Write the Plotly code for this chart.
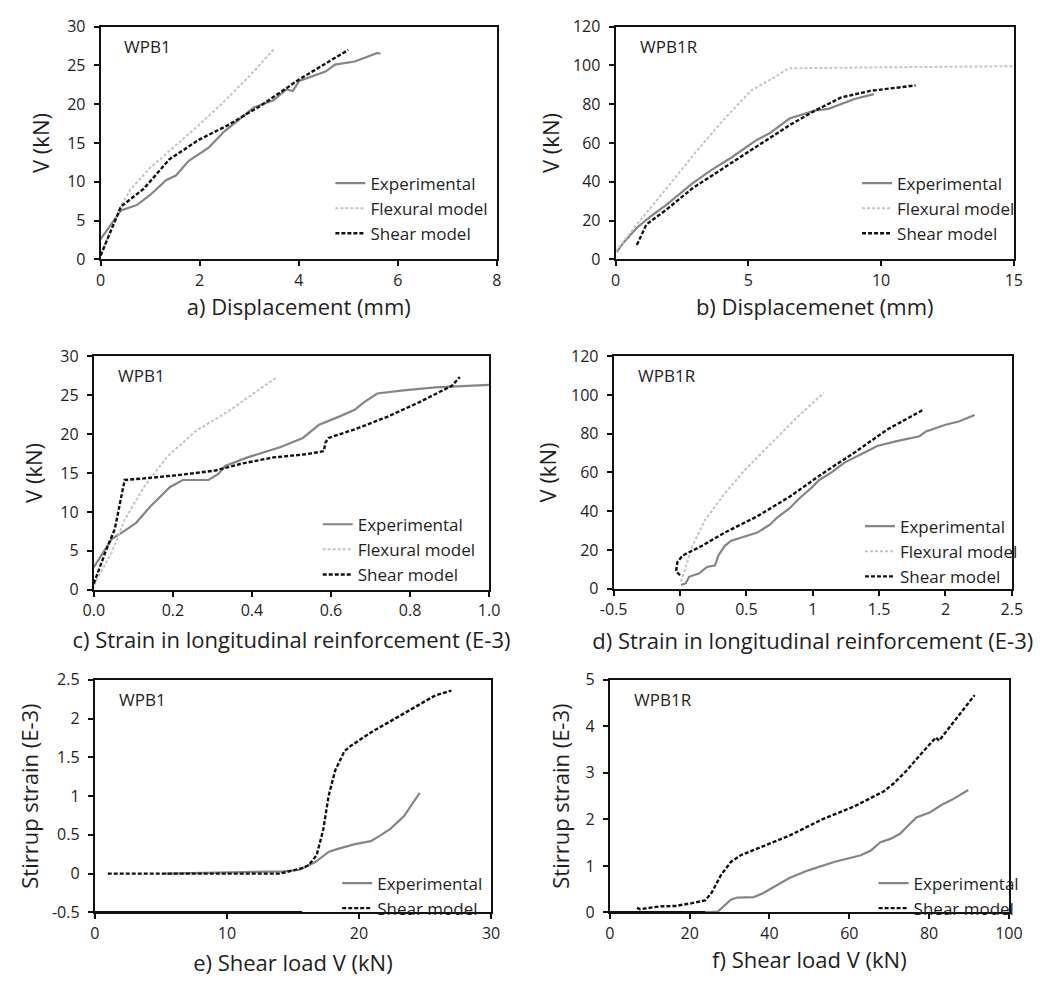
import plotly.graph_objects as go

W, H = 1057, 987
FONT = "Open Sans"
TXT = "#1e1e1e"

# ---------------- data ----------------
# a) WPB1 displacement
a_exp_x = [0, 0.41, 0.73, 1.0, 1.32, 1.52, 1.78, 2.18, 2.5, 2.83, 3.1, 3.49, 3.75, 3.88, 4.01, 4.54, 4.73, 5.13, 5.59, 5.65]
a_exp_y = [2.6, 6.3, 7.0, 8.3, 10.2, 10.8, 12.7, 14.4, 16.5, 18.2, 19.6, 20.5, 21.9, 21.7, 23.0, 24.2, 25.1, 25.5, 26.6, 26.5]
a_flex_x = [0, 0.4, 0.6, 1.0, 1.5, 2.0, 2.5, 3.0, 3.5]
a_flex_y = [0.5, 6.8, 9.0, 11.8, 14.6, 17.4, 20.4, 23.6, 27.1]
a_shear_x = [0, 0.41, 0.87, 1.39, 1.98, 2.57, 3.23, 4.01, 5.0]
a_shear_y = [0.5, 6.8, 9.1, 12.9, 15.4, 17.3, 19.8, 23.2, 27.0]

# b) WPB1R displacement
b_exp_x = [0.04, 0.3, 0.8, 1.4, 1.9, 2.27, 2.88, 3.6, 4.35, 5.33, 5.8, 6.55, 7.53, 8.02, 8.5, 9.0, 9.73]
b_exp_y = [3.7, 8.7, 16.3, 23, 28, 32.3, 39, 46, 52.4, 61.7, 65, 72.6, 76.8, 77.6, 80.2, 82.7, 85.2]
b_flex_x = [0, 0.8, 2, 3, 4, 5.1, 6, 6.5, 10, 15]
b_flex_y = [4, 18, 38, 55, 71, 87, 94, 98.5, 99, 99.6]
b_shear_x = [0.8, 1.16, 1.9, 2.88, 4.1, 5.33, 6.55, 7.53, 8.5, 9.6, 11.3]
b_shear_y = [7.4, 18, 25.5, 36.5, 47.4, 58.3, 69.2, 76.8, 83.5, 86.9, 89.7]

# c) WPB1 longitudinal strain
c_exp_x = [0, 0.045, 0.07, 0.107, 0.143, 0.193, 0.225, 0.29, 0.316, 0.332, 0.389, 0.471, 0.529, 0.57, 0.619, 0.66, 0.684, 0.717, 0.783, 0.865, 1.0]
c_exp_y = [2.9, 6.5, 7.3, 8.6, 10.7, 13.2, 14.1, 14.1, 14.9, 15.9, 17.0, 18.3, 19.5, 21.2, 22.2, 23.1, 24.1, 25.2, 25.6, 26.0, 26.3]
c_flex_x = [0, 0.045, 0.078, 0.127, 0.184, 0.258, 0.34, 0.463]
c_flex_y = [0.6, 4.8, 9.0, 13.2, 17.0, 20.4, 22.9, 27.3]
c_shear_x = [0, 0.029, 0.053, 0.078, 0.127, 0.209, 0.307, 0.373, 0.455, 0.537, 0.582, 0.586, 0.594, 0.66, 0.742, 0.824, 0.906, 0.926]
c_shear_y = [0.8, 4.8, 7.8, 14.1, 14.3, 14.7, 15.3, 16.2, 17.0, 17.4, 17.8, 18.9, 19.5, 20.6, 22.2, 24.1, 26.2, 27.3]

# d) WPB1R longitudinal strain
d_exp_x = [0.007, 0.044, 0.068, 0.142, 0.203, 0.264, 0.289, 0.337, 0.386, 0.46, 0.582, 0.68, 0.729, 0.826, 0.9, 0.998, 1.046, 1.144, 1.242, 1.364, 1.486, 1.633, 1.804, 1.853, 2.0, 2.1, 2.22]
d_exp_y = [2.0, 2.9, 6.2, 7.9, 11.3, 12.1, 17.2, 22.2, 24.8, 26.5, 29.0, 33.2, 36.6, 41.6, 46.7, 52.6, 56.0, 60.2, 65.2, 69.4, 73.7, 76.2, 78.7, 81.2, 84.6, 86.3, 89.7]
d_flex_x = [0.007, 0.044, 0.093, 0.19, 0.337, 0.484, 0.68, 0.875, 1.083]
d_flex_y = [3.7, 12.1, 22.2, 35.7, 49.2, 61.0, 74.5, 88.0, 101.1]
d_shear_x = [0.0, -0.03, -0.02, 0.02, 0.166, 0.337, 0.582, 0.826, 1.07, 1.315, 1.56, 1.829]
d_shear_y = [7.0, 9.0, 13.8, 17.2, 22.2, 29.0, 37.4, 47.5, 59.3, 70.3, 82.1, 92.2]

# e) WPB1 stirrup strain
e_exp_x = [5.3, 14.3, 15.5, 16.7, 17.7, 18.4, 19.7, 20.9, 21.6, 22.4, 23.4, 24.1, 24.6]
e_exp_y = [0.0, 0.03, 0.05, 0.15, 0.28, 0.32, 0.38, 0.42, 0.49, 0.58, 0.74, 0.91, 1.04]
e_shear_x = [0.98, 14.0, 15.7, 16.2, 16.8, 17.3, 17.7, 18.2, 18.9, 19.4, 20.9, 23.4, 25.8, 27.0]
e_shear_y = [0.0, 0.0, 0.07, 0.11, 0.24, 0.57, 1.0, 1.33, 1.58, 1.65, 1.82, 2.07, 2.3, 2.36]
e_base_x = [0, 15.7]
e_base_y = [-0.5, -0.5]

# f) WPB1R stirrup strain
f_exp_x = [23.9, 27.1, 30.4, 32.0, 36.1, 38.5, 45.0, 49.9, 56.4, 62.9, 65.4, 67.8, 70.3, 72.7, 76.8, 80.0, 83.3, 85.7, 89.8]
f_exp_y = [0.0, 0.02, 0.28, 0.32, 0.33, 0.42, 0.74, 0.91, 1.09, 1.23, 1.33, 1.51, 1.58, 1.69, 2.04, 2.14, 2.32, 2.42, 2.63]
f_shear_x = [6.8, 7.6, 12.5, 16.5, 20.6, 23.9, 25.5, 27.9, 30.4, 32.8, 36.9, 45.0, 53.2, 61.3, 65.4, 68.6, 71.1, 74.4, 77.6, 81.7, 82.5, 85.7, 91.4]
f_shear_y = [0.1, 0.07, 0.13, 0.14, 0.2, 0.26, 0.42, 0.81, 1.09, 1.23, 1.37, 1.65, 2.0, 2.28, 2.46, 2.6, 2.77, 3.05, 3.37, 3.76, 3.69, 4.04, 4.67]
f_base_x = [0, 24.0]
f_base_y = [0, 0]

# tick labels
a_xticks = [0, 2, 4, 6, 8]; a_xtext = ["0", "2", "4", "6", "8"]
a_yticks = [0, 5, 10, 15, 20, 25, 30]; a_ytext = ["0", "5", "10", "15", "20", "25", "30"]
b_xticks = [0, 5, 10, 15]; b_xtext = ["0", "5", "10", "15"]
b_yticks = [0, 20, 40, 60, 80, 100, 120]; b_ytext = ["0", "20", "40", "60", "80", "100", "120"]
c_xticks = [0, 0.2, 0.4, 0.6, 0.8, 1.0]; c_xtext = ["0.0", "0.2", "0.4", "0.6", "0.8", "1.0"]
c_yticks = a_yticks; c_ytext = a_ytext
d_xticks = [-0.5, 0, 0.5, 1, 1.5, 2, 2.5]; d_xtext = ["-0.5", "0", "0.5", "1", "1.5", "2", "2.5"]
d_yticks = b_yticks; d_ytext = b_ytext
e_xticks = [0, 10, 20, 30]; e_xtext = ["0", "10", "20", "30"]
e_yticks = [-0.5, 0, 0.5, 1, 1.5, 2, 2.5]; e_ytext = ["-0.5", "0", "0.5", "1", "1.5", "2", "2.5"]
f_xticks = [0, 20, 40, 60, 80, 100]; f_xtext = ["0", "20", "40", "60", "80", "100"]
f_yticks = [0, 1, 2, 3, 4, 5]; f_ytext = ["0", "1", "2", "3", "4", "5"]

series_names = ["Experimental", "Flexural model", "Shear model"]

# ---------------- styles ----------------
EXP = dict(color="#858585", width=2.2)
FLEX = dict(color="#c4c4c4", width=2, dash="3px,2px")
SHEAR = dict(color="#111111", width=2.4, dash="4px,2px")

fig = go.Figure()

def px2x(p):
    return p / W

def px2y(p):
    return 1 - p / H

panels = [
    # key, left, right, top, bottom, xrange, yrange, xt, xtt, yt, ytt, xtitle, ytitle, label, x-title standoff, y-title standoff
    ("1", 89, 496, 16, 254, [0, 8], [0, 30], a_xticks, a_xtext, a_yticks, a_ytext, "a) Displacement (mm)", "V (kN)", "WPB1", 6, 11),
    ("2", 618, 1027, 16, 254, [0, 15], [0, 120], b_xticks, b_xtext, b_yticks, b_ytext, "b) Displacemenet (mm)", "V (kN)", "WPB1R", 7, 7),
    ("3", 82, 488, 353, 592, [0, 1], [0, 30], c_xticks, c_xtext, c_yticks, c_ytext, "c) Strain in longitudinal reinforcement (E-3)", "V (kN)", "WPB1", 13, 12),
    ("4", 616, 1025, 353, 591, [-0.5, 2.5], [0, 120], d_xticks, d_xtext, d_yticks, d_ytext, "d) Strain in longitudinal reinforcement (E-3)", "V (kN)", "WPB1R", 15, 8),
    ("5", 83, 490, 684, 922, [0, 30], [-0.5, 2.5], e_xticks, e_xtext, e_yticks, e_ytext, "e) Shear load V (kN)", "Stirrup strain (E-3)", "WPB1", 13, 7),
    ("6", 612, 1022, 684, 922, [0, 100], [0, 5], f_xticks, f_xtext, f_yticks, f_ytext, "f) Shear load V (kN)", "Stirrup strain (E-3)", "WPB1R", 8, 10),
]

layout = dict(
    width=W, height=H,
    margin=dict(l=0, r=0, t=0, b=0),
    paper_bgcolor="white", plot_bgcolor="white",
    font=dict(family=FONT, color=TXT, size=16),
    showlegend=True,
)

annotations = []
for key, l, r, t, b, xr, yr, xt, xtt, yt, ytt, xtitle, ytitle, lab, xs, ys in panels:
    xa = "xaxis" if key == "1" else "xaxis" + key
    ya = "yaxis" if key == "1" else "yaxis" + key
    anchor_x = "x" if key == "1" else "x" + key
    anchor_y = "y" if key == "1" else "y" + key
    common = dict(showline=True, linecolor="#111111", linewidth=2, mirror=True,
                  ticks="outside", ticklen=5, tickwidth=1.5, tickcolor="#111111",
                  showgrid=False, zeroline=False,
                  tickfont=dict(family=FONT, size=16, color=TXT))
    layout[xa] = dict(domain=[px2x(l), px2x(r)], range=xr, anchor=anchor_y,
                      tickmode="array", tickvals=xt, ticktext=xtt,
                      title=dict(text=xtitle, font=dict(family=FONT, size=22, color=TXT), standoff=xs),
                      **common)
    layout[ya] = dict(domain=[px2y(b), px2y(t)], range=yr, anchor=anchor_x,
                      tickmode="array", tickvals=yt, ticktext=ytt, ticklabelstandoff=5,
                      title=dict(text=ytitle, font=dict(family=FONT, size=22, color=TXT), standoff=ys),
                      **common)
    annotations.append(dict(text=lab, xref=anchor_x + " domain", yref=anchor_y + " domain",
                            x=0.055, y=0.915, xanchor="left", yanchor="middle", showarrow=False,
                            font=dict(family=FONT, size=17, color=TXT)))
layout["annotations"] = annotations

def add(x, y, line, name, key, legend, showlegend=True):
    xa = "x" if key == "1" else "x" + key
    ya = "y" if key == "1" else "y" + key
    fig.add_trace(go.Scatter(x=x, y=y, mode="lines", line=line, name=name,
                             xaxis=xa, yaxis=ya, legend=legend, showlegend=showlegend))

add(a_exp_x, a_exp_y, EXP, series_names[0], "1", "legend")
add(a_flex_x, a_flex_y, FLEX, series_names[1], "1", "legend")
add(a_shear_x, a_shear_y, SHEAR, series_names[2], "1", "legend")

add(b_exp_x, b_exp_y, EXP, series_names[0], "2", "legend2")
add(b_flex_x, b_flex_y, FLEX, series_names[1], "2", "legend2")
add(b_shear_x, b_shear_y, SHEAR, series_names[2], "2", "legend2")

add(c_exp_x, c_exp_y, EXP, series_names[0], "3", "legend3")
add(c_flex_x, c_flex_y, FLEX, series_names[1], "3", "legend3")
add(c_shear_x, c_shear_y, SHEAR, series_names[2], "3", "legend3")

add(d_exp_x, d_exp_y, EXP, series_names[0], "4", "legend4")
add(d_flex_x, d_flex_y, FLEX, series_names[1], "4", "legend4")
add(d_shear_x, d_shear_y, SHEAR, series_names[2], "4", "legend4")

add(e_base_x, e_base_y, dict(color="#111111", width=3), "", "5", "legend5", showlegend=False)
add(e_exp_x, e_exp_y, EXP, series_names[0], "5", "legend5")
add(e_shear_x, e_shear_y, SHEAR, series_names[2], "5", "legend5")

add(f_base_x, f_base_y, dict(color="#111111", width=3), "", "6", "legend6", showlegend=False)
add(f_exp_x, f_exp_y, EXP, series_names[0], "6", "legend6")
add(f_shear_x, f_shear_y, SHEAR, series_names[2], "6", "legend6")

def leg(xpx, ypx, size=17):
    return dict(x=px2x(xpx), y=px2y(ypx), xanchor="left", yanchor="top",
                bgcolor="rgba(0,0,0,0)", borderwidth=0,
                font=dict(family=FONT, size=size, color=TXT),
                itemwidth=30, tracegroupgap=0)

layout["legend"] = leg(325, 158)
layout["legend2"] = leg(866, 158)
layout["legend3"] = leg(312, 507)
layout["legend4"] = leg(869, 509)
layout["legend5"] = leg(332, 874)
layout["legend6"] = leg(883, 874)

fig.update_layout(**layout)
fig.write_html("out.html")
